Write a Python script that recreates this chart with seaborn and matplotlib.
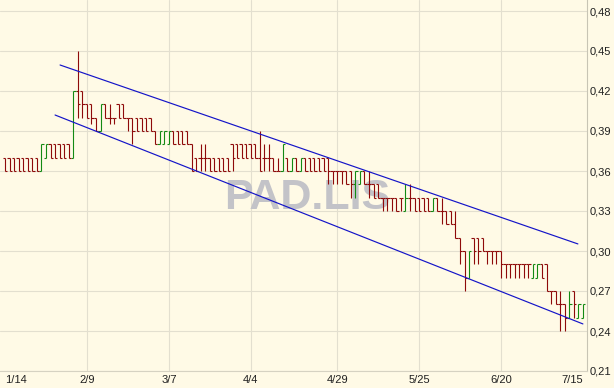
import numpy as np
import pandas as pd
import matplotlib
matplotlib.use("Agg")
import matplotlib.pyplot as plt
import seaborn as sns

# ---------------- data ----------------
opens = [0.37, 0.37, 0.37, 0.37, 0.37, 0.37, 0.37, 0.37, 0.36, 0.37,
         0.38, 0.38, 0.38, 0.38, 0.38, 0.37, 0.42, 0.42, 0.41, 0.41,
         0.40, 0.39, 0.41, 0.40, 0.40, 0.41, 0.41, 0.40, 0.40, 0.40,
         0.40, 0.40, 0.40, 0.39, 0.38, 0.38, 0.38, 0.39, 0.39, 0.39,
         0.39, 0.38, 0.37, 0.37, 0.37, 0.37, 0.37, 0.37, 0.37, 0.37,
         0.38, 0.38, 0.38, 0.38, 0.38, 0.38, 0.37, 0.37, 0.37, 0.37,
         0.36, 0.36, 0.37, 0.36, 0.37, 0.36, 0.37, 0.37, 0.37, 0.37,
         0.37, 0.37, 0.36, 0.36, 0.36, 0.36, 0.36, 0.35, 0.35, 0.36,
         0.35, 0.35, 0.35, 0.34, 0.34, 0.34, 0.34, 0.34, 0.33, 0.34,
         0.34, 0.34, 0.34, 0.34, 0.33, 0.34, 0.33, 0.33, 0.33, 0.32,
         0.31, 0.30, 0.28, 0.31, 0.31, 0.31, 0.30, 0.30, 0.30, 0.30,
         0.29, 0.29, 0.29, 0.29, 0.29, 0.29, 0.28, 0.28, 0.29, 0.29,
         0.27, 0.27, 0.26, 0.26, 0.25, 0.27, 0.25, 0.25]
highs = [0.37, 0.37, 0.37, 0.37, 0.37, 0.37, 0.37, 0.37, 0.38, 0.38,
         0.38, 0.38, 0.38, 0.38, 0.38, 0.42, 0.45, 0.42, 0.41, 0.41,
         0.40, 0.41, 0.41, 0.41, 0.40, 0.41, 0.41, 0.40, 0.40, 0.40,
         0.40, 0.40, 0.40, 0.39, 0.39, 0.39, 0.39, 0.39, 0.39, 0.39,
         0.39, 0.38, 0.37, 0.38, 0.38, 0.37, 0.37, 0.37, 0.37, 0.37,
         0.38, 0.38, 0.38, 0.38, 0.38, 0.38, 0.39, 0.38, 0.38, 0.37,
         0.37, 0.38, 0.37, 0.37, 0.37, 0.37, 0.37, 0.37, 0.37, 0.37,
         0.37, 0.37, 0.36, 0.36, 0.36, 0.36, 0.36, 0.36, 0.36, 0.36,
         0.36, 0.35, 0.35, 0.34, 0.34, 0.34, 0.34, 0.34, 0.35, 0.35,
         0.34, 0.34, 0.34, 0.34, 0.34, 0.34, 0.34, 0.33, 0.33, 0.33,
         0.31, 0.30, 0.30, 0.31, 0.31, 0.31, 0.30, 0.30, 0.30, 0.30,
         0.29, 0.29, 0.29, 0.29, 0.29, 0.29, 0.29, 0.29, 0.29, 0.29,
         0.27, 0.27, 0.27, 0.26, 0.27, 0.27, 0.26, 0.26]
lows = [0.36, 0.36, 0.36, 0.36, 0.36, 0.36, 0.36, 0.36, 0.36, 0.37,
        0.37, 0.37, 0.37, 0.37, 0.37, 0.37, 0.40, 0.40, 0.40, 0.395,
        0.39, 0.39, 0.40, 0.395, 0.395, 0.40, 0.40, 0.39, 0.38, 0.39,
        0.39, 0.39, 0.39, 0.38, 0.38, 0.38, 0.38, 0.38, 0.38, 0.38,
        0.38, 0.36, 0.36, 0.36, 0.36, 0.36, 0.36, 0.36, 0.36, 0.36,
        0.36, 0.37, 0.37, 0.37, 0.37, 0.37, 0.36, 0.36, 0.36, 0.36,
        0.36, 0.36, 0.36, 0.36, 0.36, 0.36, 0.36, 0.36, 0.36, 0.36,
        0.36, 0.35, 0.35, 0.35, 0.35, 0.35, 0.34, 0.34, 0.35, 0.35,
        0.34, 0.34, 0.34, 0.33, 0.33, 0.33, 0.33, 0.33, 0.33, 0.33,
        0.33, 0.33, 0.33, 0.33, 0.33, 0.33, 0.32, 0.32, 0.32, 0.31,
        0.29, 0.27, 0.28, 0.29, 0.29, 0.30, 0.29, 0.29, 0.29, 0.28,
        0.28, 0.28, 0.28, 0.28, 0.28, 0.28, 0.28, 0.28, 0.28, 0.27,
        0.26, 0.26, 0.24, 0.24, 0.25, 0.25, 0.25, 0.25]
closes = [0.36, 0.36, 0.36, 0.36, 0.36, 0.36, 0.36, 0.36, 0.38, 0.38,
          0.37, 0.37, 0.37, 0.37, 0.37, 0.42, 0.41, 0.41, 0.40, 0.40,
          0.39, 0.41, 0.40, 0.40, 0.40, 0.40, 0.40, 0.40, 0.39, 0.39,
          0.39, 0.39, 0.39, 0.38, 0.39, 0.39, 0.39, 0.38, 0.38, 0.38,
          0.38, 0.36, 0.36, 0.37, 0.37, 0.36, 0.36, 0.36, 0.36, 0.36,
          0.37, 0.37, 0.37, 0.37, 0.37, 0.37, 0.36, 0.37, 0.37, 0.36,
          0.36, 0.38, 0.36, 0.37, 0.36, 0.37, 0.36, 0.36, 0.36, 0.36,
          0.36, 0.36, 0.36, 0.36, 0.36, 0.35, 0.35, 0.36, 0.36, 0.35,
          0.35, 0.34, 0.34, 0.34, 0.34, 0.34, 0.33, 0.34, 0.34, 0.34,
          0.33, 0.33, 0.33, 0.33, 0.34, 0.33, 0.33, 0.32, 0.32, 0.31,
          0.30, 0.28, 0.30, 0.30, 0.30, 0.30, 0.30, 0.30, 0.30, 0.29,
          0.29, 0.29, 0.29, 0.29, 0.29, 0.29, 0.29, 0.29, 0.28, 0.27,
          0.27, 0.26, 0.26, 0.25, 0.26, 0.26, 0.26, 0.26]

tick_index = [0, 18, 36, 54, 73, 91, 109, 127]
tick_labels = ["1/14", "2/9", "3/7", "4/4", "4/29", "5/25", "6/20", "7/15"]
y_ticks = [0.21, 0.24, 0.27, 0.30, 0.33, 0.36, 0.39, 0.42, 0.45, 0.48]

upper_x = [12.1, 125.9]
upper_y = [0.4395, 0.3053]
lower_x = [11.0, 127.0]
lower_y = [0.4020, 0.2453]

symbol = "PAD.LIS"

# ---------------- styling ----------------
BG = "#FFFAE6"
GRID = "#E3DFCF"
RED = "#8E0A0A"
GREEN = "#138A13"
BLUE = "#1414C8"

sns.set_theme(style="white", rc={"axes.facecolor": BG, "figure.facecolor": BG})
plt.rcParams["font.family"] = ["Liberation Sans", "DejaVu Sans"]

fig = plt.figure(figsize=(6.14, 3.88), dpi=100)
ax = fig.add_axes([0.0, 17 / 388, 587 / 614, 371 / 388])

n = len(closes)
idx = np.arange(n)
o = np.array(opens)
h = np.array(highs)
l = np.array(lows)
c = np.array(closes)
colors = np.where(c > o, GREEN, RED)

# watermark
ax.text(0.523, 0.437, symbol, transform=ax.transAxes, ha="center", va="baseline",
        fontsize=31, fontweight="bold", color="#C3C3C8",
        family="Liberation Sans", zorder=1)

# price bars: vertical high-low, left tick = open, right tick = close
lw = 0.8
ax.vlines(idx, l, h, colors=colors, linewidth=lw, zorder=2)
ax.hlines(o, idx - 0.5, idx, colors=colors, linewidth=lw, zorder=2)
ax.hlines(c, idx, idx + 0.5, colors=colors, linewidth=lw, zorder=2)

# trend channel
trend = pd.DataFrame({
    "x": upper_x + lower_x,
    "y": upper_y + lower_y,
    "line": ["upper"] * len(upper_x) + ["lower"] * len(lower_x),
})
sns.lineplot(data=trend, x="x", y="y", hue="line", estimator=None,
             palette={"upper": BLUE, "lower": BLUE}, linewidth=0.85,
             legend=False, ax=ax, zorder=3)

# axes
ax.set_xlim(-1.1, 127.9)
ax.set_ylim(0.21, 0.48825)
ax.set_xlabel("")
ax.set_ylabel("")

ax.set_yticks(y_ticks)
ax.set_yticklabels([f"{v:.2f}".replace(".", ",") for v in y_ticks])
ax.yaxis.tick_right()
ax.set_xticks(tick_index)
ax.set_xticklabels(tick_labels)
ax.tick_params(axis="both", length=0, labelsize=8, colors="#202020")
ax.tick_params(axis="y", pad=2)
ax.tick_params(axis="x", pad=3)
xl = ax.get_xticklabels()
xl[0].set_ha("left")
xl[-1].set_ha("right")

ax.grid(True, color=GRID, linewidth=0.8)
ax.set_axisbelow(True)
ax.get_xgridlines()[0].set_visible(False)
ax.get_xgridlines()[-1].set_visible(False)

for side in ["top", "left"]:
    ax.spines[side].set_visible(False)
ax.spines["bottom"].set_color("#D6D2C2")
ax.spines["bottom"].set_linewidth(0.8)
ax.spines["right"].set_color("#C8C4B4")
ax.spines["right"].set_linewidth(0.8)

fig.savefig("out.png", dpi=100, facecolor=BG)
